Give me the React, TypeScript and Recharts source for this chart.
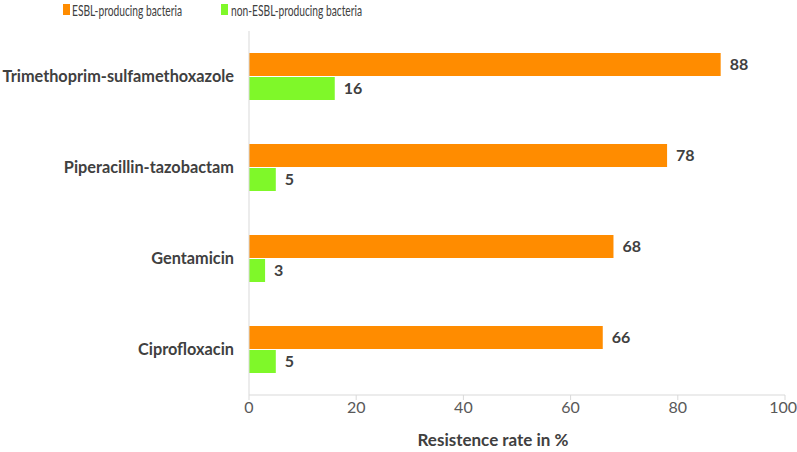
import React from "react";
import { BarChart, Bar, XAxis, YAxis, LabelList, Label } from "recharts";

const categories = [
  "Trimethoprim-sulfamethoxazole",
  "Piperacillin-tazobactam",
  "Gentamicin",
  "Ciprofloxacin",
];
const esblValues = [88, 78, 68, 66];
const nonEsblValues = [16, 5, 3, 5];
const seriesNames = ["ESBL-producing bacteria", "non-ESBL-producing bacteria"];
const seriesColors = ["#FF8C00", "#7FF829"];
const xTicks = [0, 20, 40, 60, 80, 100];
const xTitle = "Resistence rate in %";

const data = categories.map((c, i) => ({
  name: c,
  esbl: esblValues[i],
  nonEsbl: nonEsblValues[i],
}));

const FONT = "Lato, 'Open Sans', sans-serif";

const legendPos = [
  { sq: 63, txt: 72 },
  { sq: 221, txt: 231 },
];

export default function App() {
  return (
    <div style={{ position: "absolute", left: 0, top: 0, width: 797, height: 452, background: "#fff", fontFamily: FONT }}>
      {seriesNames.map((n, i) => (
        <React.Fragment key={n}>
          <span style={{ position: "absolute", left: legendPos[i].sq, top: 4, width: 7, height: 11, background: seriesColors[i] }} />
          <span
            style={{
              position: "absolute",
              left: legendPos[i].txt,
              top: 0,
              fontSize: 16,
              lineHeight: "20px",
              color: "#404040",
              whiteSpace: "nowrap",
              transform: "scaleX(0.64)",
              transformOrigin: "left center",
            }}
          >
            {n}
          </span>
        </React.Fragment>
      ))}
      <BarChart
        width={797}
        height={452}
        data={data}
        layout="vertical"
        margin={{ top: 31, right: 12, bottom: 0, left: 0 }}
        barSize={23}
        barGap={1}
      >
        <XAxis
          type="number"
          domain={[0, 100]}
          ticks={xTicks}
          height={57}
          axisLine={{ stroke: "#d9d9d9" }}
          tickLine={{ stroke: "#d9d9d9" }}
          tickSize={5}
          tick={{ fill: "#595959", fontSize: 16, fontFamily: FONT }}
        >
          <Label value={xTitle} position="insideBottom" offset={6} dx={-24} style={{ fill: "#404040", fontSize: 17, fontWeight: 700, fontFamily: FONT }} />
        </XAxis>
        <YAxis
          type="category"
          dataKey="name"
          width={249}
          axisLine={{ stroke: "#d9d9d9" }}
          tickLine={false}
          tickMargin={9}
          tick={{ fill: "#404040", fontSize: 16.3, fontWeight: 700, fontFamily: FONT }}
        />
        <Bar dataKey="esbl" name={seriesNames[0]} fill={seriesColors[0]} isAnimationActive={false}>
          <LabelList dataKey="esbl" position="right" offset={9} style={{ fill: "#404040", fontSize: 16, fontWeight: 700, fontFamily: FONT }} />
        </Bar>
        <Bar dataKey="nonEsbl" name={seriesNames[1]} fill={seriesColors[1]} isAnimationActive={false}>
          <LabelList dataKey="nonEsbl" position="right" offset={9} style={{ fill: "#404040", fontSize: 16, fontWeight: 700, fontFamily: FONT }} />
        </Bar>
      </BarChart>
    </div>
  );
}
